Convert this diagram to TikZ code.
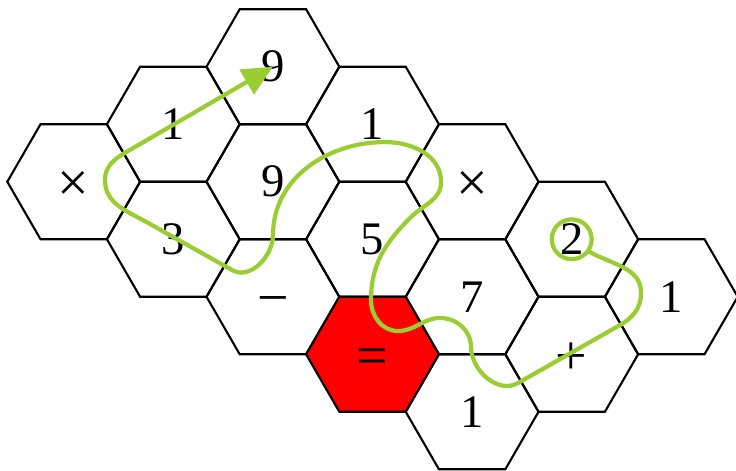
\documentclass[tikz,border=0pt]{standalone}
\usepackage{fontspec}
\setmainfont{Liberation Serif}
\usetikzlibrary{shapes.geometric,arrows.meta}
\definecolor{trail}{HTML}{9ACD32}

\begin{document}
\begin{tikzpicture}[
    hexcell/.style={draw, regular polygon, regular polygon sides=6, minimum size=2cm,
      inner sep=0pt, line width=0.9pt, font=\fontsize{20}{24}\selectfont},
    opcell/.style={hexcell, font=\fontsize{24}{28}\selectfont, text height=17pt, text depth=0pt},
    goal/.style={opcell, fill=red},
    trailline/.style={draw=trail, line width=1.8pt, line cap=round}]
  \useasboundingbox (0,0) rectangle (11.084,-7.078);

  % Board
  \node[opcell] (hx1) at (1.11,-2.737) {×};
  \node[hexcell] (h1a) at (2.61,-1.871) {1};
  \node[hexcell] (h3) at (2.61,-3.603) {3};
  \node[hexcell] (h9a) at (4.11,-1.005) {9};
  \node[hexcell] (h9b) at (4.11,-2.737) {9};
  \node[opcell] (hmin) at (4.11,-4.469) {−};
  \node[hexcell] (h1b) at (5.61,-1.871) {1};
  \node[hexcell] (h5) at (5.61,-3.603) {5};
  \node[opcell] (hx2) at (7.11,-2.737) {×};
  \node[hexcell] (h7) at (7.11,-4.469) {7};
  \node[hexcell] (h1c) at (7.11,-6.201) {1};
  \node[hexcell] (h2) at (8.61,-3.603) {2};
  \node[opcell] (hplus) at (8.61,-5.335) {+};
  \node[hexcell] (h1d) at (10.11,-4.469) {1};
  \node[goal] (heq) at (5.61,-5.335) {=};

  % Path through the board
  \node[circle, draw=trail, line width=1.8pt, minimum size=0.6cm] (start) at (h2) {};
  \draw[trailline, -{Triangle[length=13pt,width=12pt]}] (start.-35)
    to[out=-30,in=90] (9.654,-4.413)
    to[out=-90,in=30] (9.337,-4.895)
    -- (7.801,-5.768)
    to[out=-150,in=-90] (7.093,-5.226)
    to[out=90,in=0] (6.627,-4.789)
    to[out=180,in=0] (5.994,-4.985)
    to[out=180,in=-90] (5.587,-4.518)
    to[out=90,in=-135] (6.190,-3.268)
    to[out=45,in=-90] (6.642,-2.741)
    to[out=90,in=0] (5.798,-2.139)
    to[out=180,in=90] (4.111,-3.539)
    to[out=-90,in=-30] (3.494,-4.066)
    -- (2.259,-3.373)
    to[out=150,in=-90] (1.581,-2.711)
    to[out=90,in=-150] (2.033,-2.214)
    -- (h9a.center);
\end{tikzpicture}
\end{document}
